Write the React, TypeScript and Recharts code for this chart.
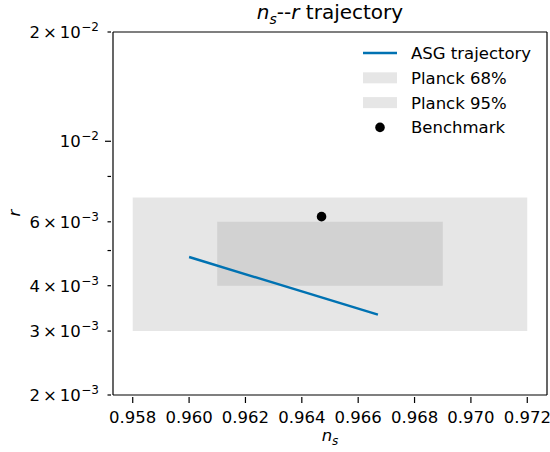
import React from "react";
import {
  ComposedChart,
  Line,
  Scatter,
  XAxis,
  YAxis,
  ReferenceArea,
  ReferenceLine,
  Label,
} from "recharts";

// n_s ticks and r ticks
const xTicks = [0.958, 0.96, 0.962, 0.964, 0.966, 0.968, 0.97, 0.972];
const yTicks = [0.002, 0.003, 0.004, 0.005, 0.006, 0.007, 0.008, 0.009, 0.01, 0.02];
const yLabels: Record<string, [string, string]> = {
  "0.002": ["2", "−3"],
  "0.003": ["3", "−3"],
  "0.004": ["4", "−3"],
  "0.006": ["6", "−3"],
  "0.01": ["", "−2"],
  "0.02": ["2", "−2"],
};

// ASG trajectory in the (n_s, r) plane
const trajectory = [
  { ns: 0.96, r: 0.0048 },
  { ns: 0.9667, r: 0.00333 },
];
const benchmark = [{ ns: 0.9647, r: 0.0062 }];

// Planck boxes: [ns min, ns max, r min, r max]
const planck68 = [0.961, 0.969, 0.004, 0.006];
const planck95 = [0.958, 0.972, 0.003, 0.007];

const xDomain = [0.9573, 0.9727];
const yDomain = [0.002, 0.02];

const FONT = "'DejaVu Sans', sans-serif";
const FS = 16.5;
const BLUE = "#0072b2";
const BOX = "#808080";

if (typeof document !== "undefined") document.body.style.margin = "0";

function YTick(props: any) {
  const { x, y, payload } = props;
  const v = payload.value;
  const major = v === 0.01;
  const lab = yLabels[String(v)];
  return (
    <g>
      <line x1={x - (major ? 6 : 3.5)} x2={x} y1={y} y2={y} stroke="#000" strokeWidth={1.2} />
      {lab && (
        <text x={x - 12} y={y + 6} textAnchor="end" fontSize={FS} fontFamily={FONT} fill="#000">
          {lab[0] && (
            <>
              <tspan>{lab[0]}</tspan>
              <tspan dx={3}>×</tspan>
              <tspan dx={3}>10</tspan>
            </>
          )}
          {!lab[0] && <tspan>10</tspan>}
          <tspan dy={-7} dx={0.5} fontSize={12}>{lab[1]}</tspan>
        </text>
      )}
    </g>
  );
}

function XTick(props: any) {
  const { x, y, payload } = props;
  return (
    <g>
      <line x1={x} x2={x} y1={y} y2={y + 6} stroke="#000" strokeWidth={1.2} />
      <text x={x} y={y + 26} textAnchor="middle" fontSize={FS} fontFamily={FONT} fill="#000">
        {payload.value.toFixed(3)}
      </text>
    </g>
  );
}

function LegendBox() {
  const rows = [
    { name: "ASG trajectory", kind: "line" },
    { name: "Planck 68%", kind: "patch" },
    { name: "Planck 95%", kind: "patch" },
    { name: "Benchmark", kind: "dot" },
  ];
  return (
    <svg width={190} height={110} style={{ position: "absolute", top: 41, left: 360 }}>
      {rows.map((r, i) => {
        const cy = 12 + i * 24.8;
        return (
          <g key={r.name}>
            {r.kind === "line" && <line x1={3} x2={37} y1={cy} y2={cy} stroke={BLUE} strokeWidth={2.4} />}
            {r.kind === "patch" && <rect x={3} y={cy - 5.5} width={34} height={11} fill={BOX} fillOpacity={0.2} />}
            {r.kind === "dot" && <circle cx={20} cy={cy} r={4.8} fill="#000" />}
            <text x={51} y={cy + 6} fontSize={FS} fontFamily={FONT} fill="#000">
              {r.name}
            </text>
          </g>
        );
      })}
    </svg>
  );
}

export default function App() {
  return (
    <div style={{ position: "relative", width: 550, height: 452, background: "#fff" }}>
      <div
        style={{
          position: "absolute",
          top: 0,
          left: 113,
          width: 434,
          textAlign: "center",
          fontFamily: FONT,
          fontSize: 20,
          lineHeight: "25px",
          zIndex: 2,
        }}
      >
        <i>n</i>
        <sub style={{ fontSize: 14, fontStyle: "italic" }}>s</sub>--<i>r</i> trajectory
      </div>
      <ComposedChart width={550} height={452} margin={{ top: 32, right: 3, bottom: 0, left: 0 }}>
        <XAxis
          type="number"
          dataKey="ns"
          domain={xDomain}
          ticks={xTicks}
          allowDataOverflow
          tick={<XTick />}
          tickLine={false}
          tickSize={0}
          axisLine={{ stroke: "#000", strokeWidth: 1.2 }}
          height={57}
        >
          <Label
            position="insideBottom"
            offset={0}
            content={(p: any) => {
              const vb = p.viewBox;
              return (
                <text x={vb.x + vb.width / 2} y={441} textAnchor="middle" fontSize={FS} fontFamily={FONT} fontStyle="italic">
                  n<tspan dy={4} fontSize={12}>s</tspan>
                </text>
              );
            }}
          />
        </XAxis>
        <YAxis
          type="number"
          dataKey="r"
          scale="log"
          domain={yDomain}
          ticks={yTicks}
          allowDataOverflow
          tick={<YTick />}
          tickLine={false}
          tickSize={0}
          axisLine={{ stroke: "#000", strokeWidth: 1.2 }}
          width={113}
        >
          <Label
            position="insideLeft"
            content={() => (
              <text x={20} y={213} transform="rotate(-90 20 213)" textAnchor="middle" fontSize={FS} fontFamily={FONT} fontStyle="italic">
                r
              </text>
            )}
          />
        </YAxis>
        <ReferenceArea
          x1={planck95[0]}
          x2={planck95[1]}
          y1={planck95[2]}
          y2={planck95[3]}
          fill={BOX}
          fillOpacity={0.2}
          stroke="none"
        />
        <ReferenceArea
          x1={planck68[0]}
          x2={planck68[1]}
          y1={planck68[2]}
          y2={planck68[3]}
          fill={BOX}
          fillOpacity={0.2}
          stroke="none"
        />
        <ReferenceLine y={yDomain[1]} stroke="#000" strokeWidth={1.2} />
        <ReferenceLine x={xDomain[1]} stroke="#000" strokeWidth={1.2} />
        <Line
          data={trajectory}
          dataKey="r"
          stroke={BLUE}
          strokeWidth={2.4}
          dot={false}
          activeDot={false}
          isAnimationActive={false}
          name="ASG trajectory"
        />
        <Scatter
          data={benchmark}
          dataKey="r"
          fill="#000"
          isAnimationActive={false}
          name="Benchmark"
          shape={(p: any) => <circle cx={p.cx} cy={p.cy} r={4.8} fill="#000" />}
        />
      </ComposedChart>
      <LegendBox />
    </div>
  );
}
